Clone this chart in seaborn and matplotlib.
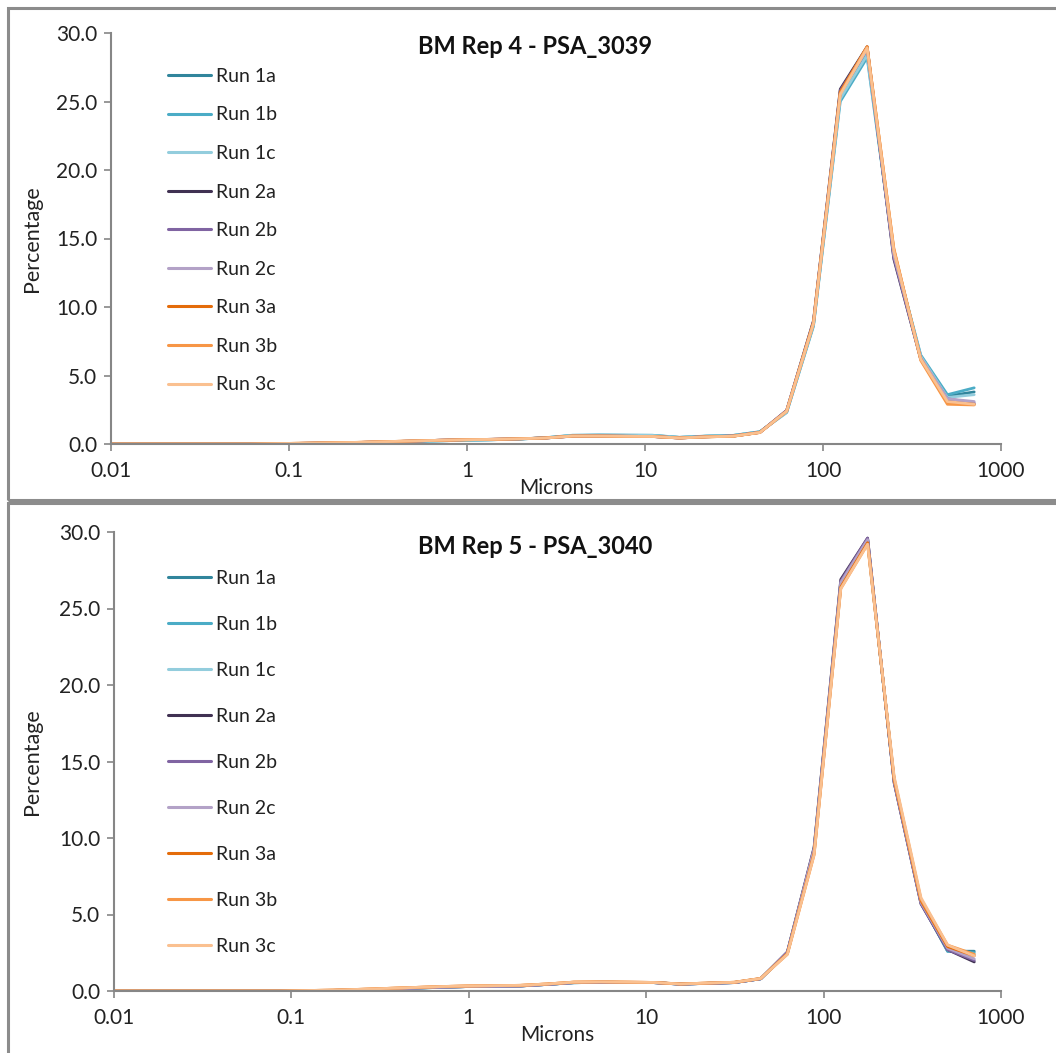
import matplotlib
matplotlib.use("Agg")
import matplotlib.pyplot as plt
import seaborn as sns
import pandas as pd
from matplotlib.patches import Rectangle
from matplotlib.ticker import FixedLocator, FixedFormatter, NullLocator

sns.set_theme(style="white")
plt.rcParams['font.family'] = ['Lato', 'DejaVu Sans']

microns = [0.01, 0.0153, 0.0216, 0.0306, 0.0432, 0.0611, 0.0864, 0.122, 0.173, 0.244,
           0.345, 0.488, 0.691, 0.977, 1.38, 1.95, 2.76, 3.91, 5.52, 7.81, 11.0, 15.6,
           22.1, 31.3, 44.2, 62.5, 88.4, 125, 177, 250, 354, 500, 707]

runs = ["Run 1a", "Run 1b", "Run 1c", "Run 2a", "Run 2b", "Run 2c", "Run 3a", "Run 3b", "Run 3c"]
colors = ["#31859C", "#4BACC6", "#93CDDD", "#403152", "#8064A2", "#B3A2C7",
          "#E46C0A", "#F79646", "#FAC090"]

# Panel 1: BM Rep 4 - PSA_3039
rep4_1a = [0, 0, 0, 0, 0, 0, 0.02, 0.04, 0.06, 0.09, 0.13, 0.18, 0.23, 0.27, 0.31, 0.36, 0.45, 0.62, 0.64, 0.63, 0.62, 0.48, 0.57, 0.62, 0.88, 2.35, 8.7, 25.3, 28.6, 13.8, 6.4, 3.5, 3.8]
rep4_1b = [0, 0, 0, 0, 0, 0, 0.02, 0.04, 0.06, 0.09, 0.13, 0.18, 0.23, 0.27, 0.31, 0.36, 0.46, 0.64, 0.66, 0.65, 0.64, 0.49, 0.58, 0.63, 0.90, 2.30, 8.6, 25.0, 28.2, 13.9, 6.5, 3.6, 4.1]
rep4_1c = [0, 0, 0, 0, 0, 0, 0.02, 0.04, 0.06, 0.09, 0.13, 0.18, 0.23, 0.27, 0.31, 0.36, 0.45, 0.63, 0.65, 0.64, 0.63, 0.48, 0.57, 0.62, 0.88, 2.30, 8.7, 25.2, 28.4, 14.0, 6.4, 3.4, 3.6]
rep4_2a = [0, 0, 0, 0, 0, 0, 0.02, 0.05, 0.08, 0.11, 0.16, 0.21, 0.27, 0.32, 0.34, 0.38, 0.44, 0.57, 0.58, 0.56, 0.55, 0.44, 0.53, 0.58, 0.85, 2.45, 9.0, 25.9, 29.0, 13.5, 6.2, 3.2, 2.9]
rep4_2b = [0, 0, 0, 0, 0, 0, 0.02, 0.05, 0.08, 0.11, 0.16, 0.21, 0.27, 0.32, 0.34, 0.38, 0.44, 0.57, 0.58, 0.56, 0.55, 0.44, 0.53, 0.58, 0.85, 2.45, 8.9, 25.8, 28.9, 13.6, 6.2, 3.3, 3.0]
rep4_2c = [0, 0, 0, 0, 0, 0, 0.02, 0.05, 0.08, 0.11, 0.16, 0.21, 0.27, 0.32, 0.34, 0.38, 0.44, 0.57, 0.58, 0.56, 0.55, 0.44, 0.53, 0.58, 0.85, 2.40, 8.9, 25.6, 28.8, 13.8, 6.3, 3.3, 3.1]
rep4_3a = [0, 0, 0, 0, 0, 0, 0.03, 0.06, 0.09, 0.12, 0.17, 0.22, 0.27, 0.31, 0.34, 0.38, 0.44, 0.58, 0.58, 0.56, 0.55, 0.44, 0.52, 0.57, 0.84, 2.40, 8.9, 25.7, 29.0, 14.2, 6.2, 3.0, 2.9]
rep4_3b = [0, 0, 0, 0, 0, 0, 0.03, 0.06, 0.09, 0.12, 0.17, 0.22, 0.27, 0.31, 0.34, 0.38, 0.44, 0.58, 0.58, 0.56, 0.55, 0.44, 0.52, 0.57, 0.84, 2.40, 8.8, 25.6, 29.0, 14.3, 6.1, 2.9, 2.85]
rep4_3c = [0, 0, 0, 0, 0, 0, 0.03, 0.06, 0.09, 0.12, 0.17, 0.22, 0.27, 0.31, 0.34, 0.38, 0.44, 0.58, 0.58, 0.56, 0.55, 0.44, 0.52, 0.57, 0.84, 2.40, 8.8, 25.5, 28.9, 14.1, 6.2, 3.1, 2.9]

# Panel 2: BM Rep 5 - PSA_3040
rep5_1a = [0, 0, 0, 0, 0, 0, 0, 0.01, 0.03, 0.07, 0.12, 0.18, 0.24, 0.29, 0.31, 0.33, 0.43, 0.54, 0.57, 0.56, 0.55, 0.45, 0.50, 0.55, 0.80, 2.50, 9.2, 26.6, 29.4, 13.7, 5.8, 2.6, 2.6]
rep5_1b = [0, 0, 0, 0, 0, 0, 0, 0.01, 0.03, 0.07, 0.12, 0.18, 0.24, 0.29, 0.31, 0.33, 0.43, 0.54, 0.57, 0.56, 0.55, 0.45, 0.50, 0.55, 0.80, 2.50, 9.3, 26.7, 29.5, 13.7, 5.8, 2.6, 2.5]
rep5_1c = [0, 0, 0, 0, 0, 0, 0, 0.01, 0.03, 0.07, 0.12, 0.18, 0.24, 0.29, 0.31, 0.33, 0.43, 0.54, 0.57, 0.56, 0.55, 0.45, 0.50, 0.55, 0.80, 2.50, 9.2, 26.5, 29.3, 13.8, 5.9, 2.7, 2.4]
rep5_2a = [0, 0, 0, 0, 0, 0, 0, 0.01, 0.04, 0.08, 0.13, 0.19, 0.25, 0.29, 0.31, 0.33, 0.43, 0.55, 0.57, 0.56, 0.55, 0.45, 0.50, 0.55, 0.80, 2.55, 9.4, 26.9, 29.6, 13.6, 5.7, 2.7, 1.9]
rep5_2b = [0, 0, 0, 0, 0, 0, 0, 0.01, 0.04, 0.08, 0.13, 0.19, 0.25, 0.29, 0.31, 0.33, 0.43, 0.55, 0.57, 0.56, 0.55, 0.45, 0.50, 0.55, 0.80, 2.55, 9.3, 26.8, 29.6, 13.6, 5.7, 2.7, 2.0]
rep5_2c = [0, 0, 0, 0, 0, 0, 0, 0.01, 0.04, 0.08, 0.13, 0.19, 0.25, 0.29, 0.31, 0.33, 0.43, 0.55, 0.57, 0.56, 0.55, 0.45, 0.50, 0.55, 0.80, 2.50, 9.3, 26.7, 29.5, 13.7, 5.8, 2.8, 2.1]
rep5_3a = [0, 0, 0, 0, 0, 0, 0, 0.03, 0.06, 0.11, 0.17, 0.23, 0.29, 0.33, 0.35, 0.37, 0.46, 0.58, 0.60, 0.58, 0.56, 0.46, 0.52, 0.57, 0.82, 2.45, 9.0, 26.4, 29.3, 13.8, 5.9, 2.9, 2.3]
rep5_3b = [0, 0, 0, 0, 0, 0, 0, 0.03, 0.06, 0.11, 0.17, 0.23, 0.29, 0.33, 0.35, 0.37, 0.46, 0.58, 0.60, 0.58, 0.56, 0.46, 0.52, 0.57, 0.82, 2.40, 8.9, 26.3, 29.2, 13.9, 6.0, 3.0, 2.4]
rep5_3c = [0, 0, 0, 0, 0, 0, 0, 0.03, 0.06, 0.11, 0.17, 0.23, 0.29, 0.33, 0.35, 0.37, 0.46, 0.58, 0.60, 0.58, 0.56, 0.46, 0.52, 0.57, 0.82, 2.40, 8.9, 26.3, 29.2, 14.0, 6.1, 3.0, 2.3]

panels = [
    ("BM Rep 4 - PSA_3039", [rep4_1a, rep4_1b, rep4_1c, rep4_2a, rep4_2b, rep4_2c, rep4_3a, rep4_3b, rep4_3c]),
    ("BM Rep 5 - PSA_3040", [rep5_1a, rep5_1b, rep5_1c, rep5_2a, rep5_2b, rep5_2c, rep5_3a, rep5_3b, rep5_3c]),
]

xticks = [0.01, 0.1, 1, 10, 100, 1000]
xticklabels = ["0.01", "0.1", "1", "10", "100", "1000"]
yticks = [0, 5, 10, 15, 20, 25, 30]
yticklabels = ["0.0", "5.0", "10.0", "15.0", "20.0", "25.0", "30.0"]

W, H = 1056, 1053
fig = plt.figure(figsize=(W / 100, H / 100), dpi=100)

# panel frames
fig.patches.append(Rectangle((8 / W, 1 - 500 / H), 1.2, (500 - 8) / H, transform=fig.transFigure,
                             fill=False, edgecolor="#8c8c8c", linewidth=2.2, zorder=0))
fig.patches.append(Rectangle((8 / W, -0.2), 1.2, 0.2 + 1 - 503 / H, transform=fig.transFigure,
                             fill=False, edgecolor="#8c8c8c", linewidth=2.2, zorder=0))

# axes rects in pixels: (left, right, y_top, y_bottom)
rects = [(111, 1001, 33, 444), (114, 1001, 532, 991)]
title_y = [47, 546]
legend_top = [60, 562]
legend_spacing = [1.11, 1.49]
gray = "#868686"

for (title, series), (l, r, t, b), ty, lt, ls in zip(panels, rects, title_y, legend_top, legend_spacing):
    ax = fig.add_axes([l / W, 1 - b / H, (r - l) / W, (b - t) / H])
    rows = []
    for run, vals in zip(runs, series):
        for xv, yv in zip(microns, vals):
            rows.append({"Microns": xv, "Percentage": yv, "Run": run})
    df = pd.DataFrame(rows)
    sns.lineplot(data=df, x="Microns", y="Percentage", hue="Run", palette=colors,
                 linewidth=2.0, ax=ax, legend=True, sort=False)
    ax.set_xscale("log")
    ax.set_xlim(0.01, 1000)
    ax.set_ylim(0, 30)
    ax.xaxis.set_major_locator(FixedLocator(xticks))
    ax.xaxis.set_major_formatter(FixedFormatter(xticklabels))
    ax.xaxis.set_minor_locator(NullLocator())
    ax.set_yticks(yticks)
    ax.set_yticklabels(yticklabels)
    for s in ["top", "right"]:
        ax.spines[s].set_visible(False)
    for s in ["left", "bottom"]:
        ax.spines[s].set_color(gray)
        ax.spines[s].set_linewidth(1.5)
    ax.tick_params(axis="both", which="major", direction="out", length=5, width=1.2,
                   color=gray, labelsize=15, labelcolor="#222222", pad=5, left=True, bottom=True)
    ax.tick_params(axis="x", pad=7)
    ax.set_xlabel("Microns", fontsize=15, color="#222222", labelpad=-2)
    ax.set_ylabel("Percentage", fontsize=15.5, color="#222222")
    ax.yaxis.set_label_coords((42 - l) / (r - l), 0.5)
    fig.text(535 / W, 1 - ty / H, title, ha="center", va="center", fontsize=17,
             fontweight="bold", color="#111111")
    leg = ax.legend(loc="upper left", bbox_to_anchor=(160 / W, 1 - lt / H),
                    bbox_transform=fig.transFigure, frameon=False, fontsize=14,
                    handlelength=2.2, handletextpad=0.3, labelspacing=ls, borderaxespad=0)
    for line in leg.get_lines():
        line.set_linewidth(2.2)
    for txt in leg.get_texts():
        txt.set_color("#222222")

fig.savefig("out.png", dpi=100)
